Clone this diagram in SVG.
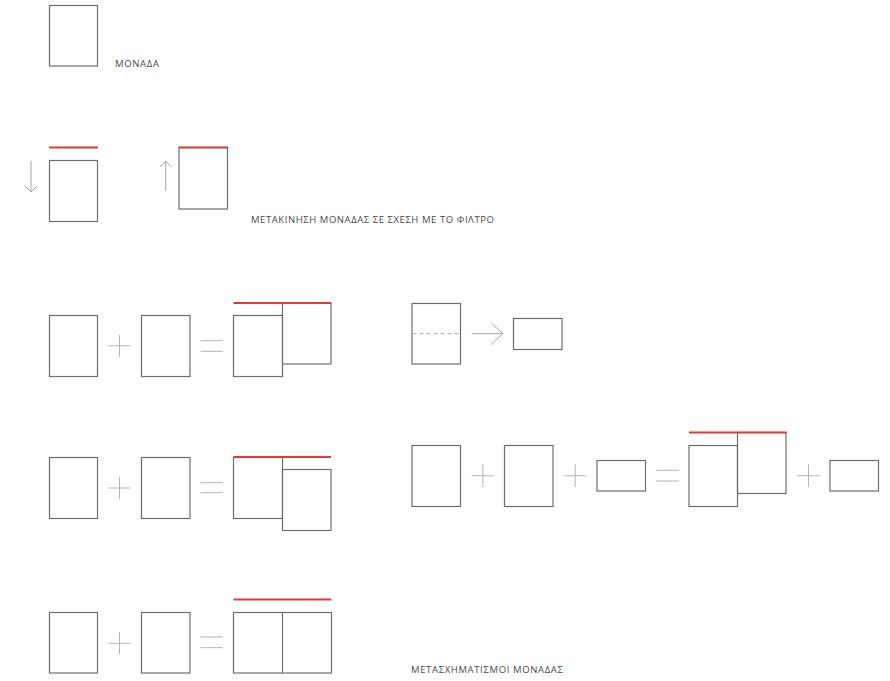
<svg xmlns="http://www.w3.org/2000/svg" width="890" height="681" viewBox="0 0 890 681">
<style>
.box{fill:none;stroke:#6e6e6e;stroke-width:1.2}
.red{stroke:#e5383b;stroke-width:2;fill:none}
.op{stroke:#b4b4b4;stroke-width:1;fill:none}
.arr{stroke:#a8a8a8;stroke-width:1;fill:none}
.dash{stroke:#a8a8a8;stroke-width:1;stroke-dasharray:4 3;fill:none}
.lbl{font-family:"Open Sans","Liberation Sans",sans-serif;font-size:9.5px;fill:#4a4a4a;letter-spacing:0.6px}
</style>
<rect width="890" height="681" fill="#fff"/>

<g id="unit">
<rect class="box" x="49.5" y="5.5" width="48" height="60.5"/>
<text class="lbl" x="115" y="66.8" textLength="44.5" lengthAdjust="spacing">ΜΟΝΑΔΑ</text>
</g>

<g id="move-down">
<line class="red" x1="49" y1="147.5" x2="98" y2="147.5"/>
<rect class="box" x="49.5" y="160.5" width="48" height="61"/>
</g>
<g id="move-up">
<rect class="box" x="179" y="147.5" width="48.5" height="61.5"/>
<line class="red" x1="179" y1="147.5" x2="228" y2="147.5"/>
</g>
<g id="label-move">
<text class="lbl" x="251" y="223.3" textLength="243.5" lengthAdjust="spacing">ΜΕΤΑΚΙΝΗΣΗ ΜΟΝΑΔΑΣ ΣΕ ΣΧΕΣΗ ΜΕ ΤΟ ΦΙΛΤΡΟ</text>
</g>

<g id="row3-a"><rect class="box" x="49.5" y="315.5" width="48" height="61"/></g>
<g id="row3-b"><rect class="box" x="141.5" y="315.5" width="48.5" height="61"/></g>
<g id="row3-result">
<rect class="box" x="233.5" y="315.5" width="49" height="61"/>
<rect class="box" x="282.5" y="303" width="48.5" height="61"/>
<line class="red" x1="233.5" y1="303" x2="331" y2="303"/>
</g>

<g id="fold-source">
<rect class="box" x="412" y="303.5" width="48.5" height="60.5"/>
<line class="dash" x1="412.5" y1="333.7" x2="460" y2="333.7"/>
</g>
<g id="fold-result"><rect class="box" x="513.5" y="318.5" width="48.5" height="31"/></g>

<g id="row4-a"><rect class="box" x="49.5" y="457.5" width="48" height="61"/></g>
<g id="row4-b"><rect class="box" x="141.5" y="457.5" width="48.5" height="61"/></g>
<g id="row4-result">
<rect class="box" x="233.5" y="457.5" width="49" height="61"/>
<rect class="box" x="282.5" y="469.5" width="48.5" height="61"/>
<line class="red" x1="233.5" y1="457" x2="331" y2="457"/>
</g>

<g id="row4r-a"><rect class="box" x="412" y="445.5" width="48.5" height="61"/></g>
<g id="row4r-b"><rect class="box" x="504.5" y="445.5" width="48.5" height="61"/></g>
<g id="row4r-c"><rect class="box" x="597" y="460.5" width="48.5" height="30.5"/></g>
<g id="row4r-result">
<rect class="box" x="689" y="445.5" width="48.5" height="61"/>
<rect class="box" x="737.5" y="432.5" width="48.5" height="61"/>
<line class="red" x1="689" y1="432.5" x2="786.5" y2="432.5"/>
</g>
<g id="row4r-d"><rect class="box" x="830" y="460.5" width="48.5" height="30.5"/></g>

<g id="row5-a"><rect class="box" x="49.5" y="612.5" width="48" height="60.5"/></g>
<g id="row5-b"><rect class="box" x="141.5" y="612.5" width="48.5" height="60.5"/></g>
<g id="row5-result">
<rect class="box" x="233.5" y="612.5" width="98" height="60.5"/>
<line class="box" x1="282.5" y1="612.5" x2="282.5" y2="673"/>
<line class="red" x1="233.5" y1="599.5" x2="331.5" y2="599.5"/>
</g>
<g id="label-transform">
<text class="lbl" x="411" y="673" textLength="152.5" lengthAdjust="spacing">ΜΕΤΑΣΧΗΜΑΤΙΣΜΟΙ ΜΟΝΑΔΑΣ</text>
</g>

<g id="connectors">
<path class="arr" d="M31 161V192M25 186L31 192L37 186"/>
<path class="arr" d="M165.7 161V191M160 167L165.7 161L171.4 167"/>
<path class="arr" d="M471.7 333.7H502.7M491 322.7L502.7 333.7L491 344.7"/>
<path class="op" d="M108.5 345.8H130.5M119.5 335V356.7"/>
<path class="op" d="M200.5 340.7H222.7M200.5 351.3H222.7"/>
<path class="op" d="M108.5 488H130.5M119.5 477V499"/>
<path class="op" d="M200.5 482.7H222.7M200.5 492.7H222.7"/>
<path class="op" d="M108.5 643.3H130.5M119.5 632V654"/>
<path class="op" d="M200.5 637H222.7M200.5 647.7H222.7"/>
<path class="op" d="M471.7 475.8H494M482.8 464.5V487"/>
<path class="op" d="M564 475.8H586.3M575.2 464.5V487"/>
<path class="op" d="M656.3 470.3H678.7M656.3 481H678.7"/>
<path class="op" d="M797.3 475.8H819.7M808.5 464.5V487"/>
</g>
</svg>
